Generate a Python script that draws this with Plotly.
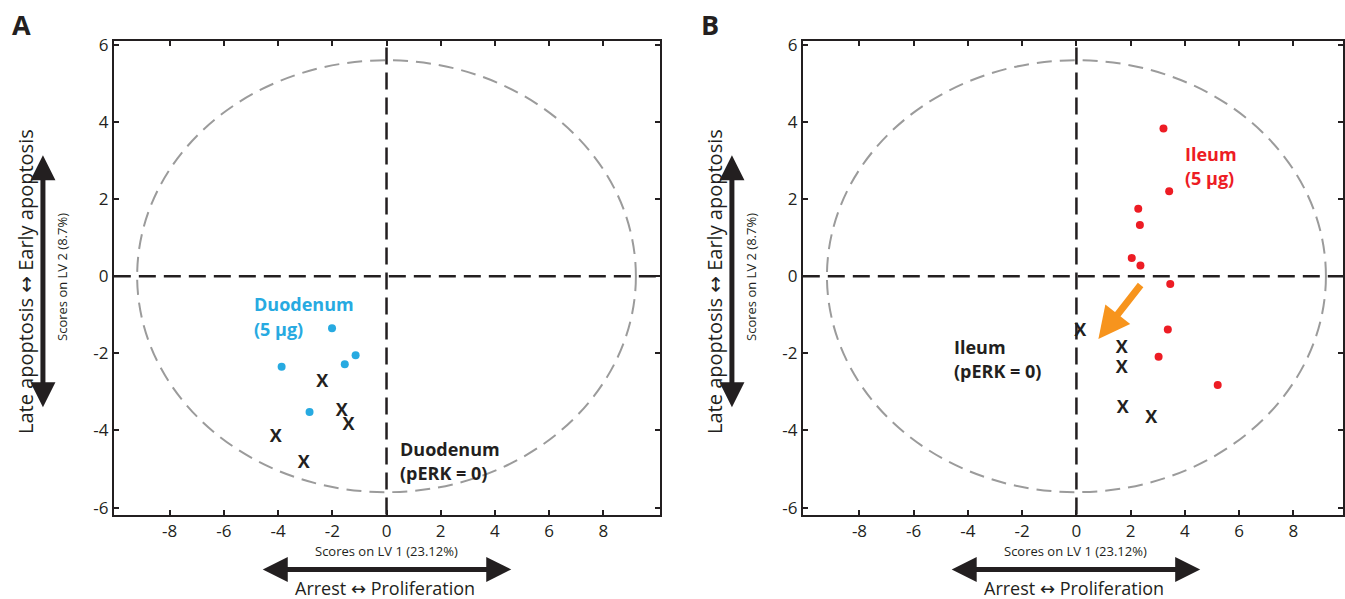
import plotly.graph_objects as go

# ---------------- data ----------------
# Panel A (Duodenum)
duo_5ug_x = [-2.01, -1.14, -1.54, -3.87, -2.84]
duo_5ug_y = [-1.35, -2.05, -2.28, -2.35, -3.52]
duo_perk0_x = [-2.37, -1.65, -1.40, -4.09, -3.05]
duo_perk0_y = [-2.75, -3.51, -3.86, -4.18, -4.85]

# Panel B (Ileum)
ile_5ug_x = [3.21, 3.42, 2.28, 2.34, 2.04, 2.36, 3.46, 3.37, 3.03, 5.21]
ile_5ug_y = [3.83, 2.20, 1.75, 1.33, 0.47, 0.28, -0.20, -1.38, -2.09, -2.82]
ile_perk0_x = [0.14, 1.67, 1.67, 1.71, 2.76]
ile_perk0_y = [-1.44, -1.88, -2.40, -3.42, -3.69]

# arrow (shift of Ileum group) tail -> head
arrow_tail = (2.41, -0.19)
arrow_head = (0.81, -1.63)

# confidence ellipse semi-axes
ELLIPSE_A = 9.2
ELLIPSE_B = 5.6

x_tick_vals = [-8, -6, -4, -2, 0, 2, 4, 6, 8]
x_tick_text = ["-8", "-6", "-4", "-2", "0", "2", "4", "6", "8"]
y_tick_vals = [-6, -4, -2, 0, 2, 4, 6]
y_tick_text = ["-6", "-4", "-2", "0", "2", "4", "6"]

# ---------------- style ----------------
W, H = 1345, 599
VA, VB = 5.4, 0.982  # vertical placement correction
INK = "#231F20"
BLUE = "#27AAE1"
RED = "#ED1C24"
ORANGE = "#F7941D"
GREY = "#9B9B9B"
FONT = "Open Sans"
ARROW_FONT = "DejaVu Sans"


def px(x):
    return x / W


def py(y):
    return 1 - ((y - VA) / VB) / H


fig = go.Figure()

x_font = dict(family=FONT, size=18, color=INK, weight="bold")
# Panel A traces
fig.add_trace(go.Scatter(x=duo_5ug_x, y=duo_5ug_y, mode="markers",
                         marker=dict(color=BLUE, size=8), xaxis="x", yaxis="y",
                         showlegend=False, hoverinfo="skip"))
fig.add_trace(go.Scatter(x=duo_perk0_x, y=duo_perk0_y, mode="text", text=["X"] * len(duo_perk0_x),
                         textfont=x_font, xaxis="x", yaxis="y", showlegend=False, hoverinfo="skip"))
# Panel B traces
fig.add_trace(go.Scatter(x=ile_5ug_x, y=ile_5ug_y, mode="markers",
                         marker=dict(color=RED, size=8), xaxis="x2", yaxis="y2",
                         showlegend=False, hoverinfo="skip"))
fig.add_trace(go.Scatter(x=ile_perk0_x, y=ile_perk0_y, mode="text", text=["X"] * len(ile_perk0_x),
                         textfont=x_font, xaxis="x2", yaxis="y2", showlegend=False, hoverinfo="skip"))

y_dom = [py(513), py(38)]
axis_common = dict(showgrid=False, zeroline=False, showline=True, linecolor=INK, linewidth=2,
                   mirror="ticks", ticks="inside", ticklen=5, tickwidth=1.5, tickcolor=INK,
                   tickfont=dict(family=FONT, size=17, color=INK), fixedrange=True)

fig.update_layout(
    width=W, height=H,
    margin=dict(l=0, r=0, t=0, b=0),
    paper_bgcolor="white", plot_bgcolor="white",
    xaxis=dict(domain=[px(114), px(661)], range=[-10.06, 10.09], anchor="y",
               tickvals=x_tick_vals, ticktext=x_tick_text, **axis_common),
    yaxis=dict(domain=y_dom, range=[-6.18, 6.11], anchor="x",
               tickvals=y_tick_vals, ticktext=y_tick_text, **axis_common),
    xaxis2=dict(domain=[px(804), 1.0], range=[-10.09, 9.83], anchor="y2",
                tickvals=x_tick_vals, ticktext=x_tick_text, **axis_common),
    yaxis2=dict(domain=y_dom, range=[-6.18, 6.11], anchor="x2",
                tickvals=y_tick_vals, ticktext=y_tick_text, **axis_common),
)

shapes = []
for xa, ya in (("x", "y"), ("x2", "y2")):
    # ellipse
    shapes.append(dict(type="circle", xref=xa, yref=ya, x0=-ELLIPSE_A, x1=ELLIPSE_A,
                       y0=-ELLIPSE_B, y1=ELLIPSE_B, line=dict(color=GREY, width=2, dash="15px,8px"),
                       layer="below"))
    # zero lines
    shapes.append(dict(type="line", xref=xa, yref=ya + " domain", x0=0, x1=0, y0=0, y1=1,
                       line=dict(color=INK, width=2.5, dash="17px,8px")))
    shapes.append(dict(type="line", xref=xa + " domain", yref=ya, x0=0, x1=1, y0=0, y1=0,
                       line=dict(color=INK, width=2.5, dash="17px,8px")))
fig.update_layout(shapes=shapes)

ann = []


def label(text, x, y, color, size=18, bold=False, xanchor="left", angle=0):
    ann.append(dict(text=text, x=px(x), y=py(y), xref="paper", yref="paper", showarrow=False,
                    xanchor=xanchor, yanchor="middle", textangle=angle,
                    font=dict(family=FONT, size=size, color=color, weight="bold" if bold else "normal")))


dbl = "<span style='font-family:%s'>\u2194</span>" % ARROW_FONT

for off in (0, 690):
    # x-axis title and interpretation
    label("Scores on LV 1 (23.12%)", 387 + off, 550, INK, size=13, xanchor="center")
    label("Arrest " + dbl + " Proliferation", 386 + off, 587, INK, size=18, xanchor="center")
    # y-axis title and interpretation
    label("Scores on LV 2 (8.7%)", 62 + off, 275, INK, size=13, xanchor="center", angle=-90)
    label("Late apoptosis " + dbl + " Early apoptosis", 25 + off, 279, INK, size=20,
          xanchor="center", angle=-90)
    # double arrows
    ann.append(dict(x=px(512 + off), y=py(568), xref="paper", yref="paper", ax=-250, ay=0,
                    axref="pixel", ayref="pixel", showarrow=True, arrowside="end+start",
                    arrowhead=2, arrowsize=1.0, arrowwidth=5, arrowcolor=INK, text="", standoff=0,
                    startstandoff=0))
    ann.append(dict(x=px(43 + off), y=py(153), xref="paper", yref="paper", ax=0, ay=249 / VB,
                    axref="pixel", ayref="pixel", showarrow=True, arrowside="end+start",
                    arrowhead=2, arrowsize=1.0, arrowwidth=5, arrowcolor=INK, text="", standoff=0,
                    startstandoff=0))

# panel letters
label("A", 10, 22, INK, size=27, bold=True)
label("B", 700, 22, INK, size=27, bold=True)

# group labels
label("Duodenum", 252, 302, BLUE, bold=True)
label("(5 \u03bcg)", 252, 327, BLUE, bold=True)
label("Duodenum", 399, 447, INK, bold=True)
label("(pERK = 0)", 399, 471, INK, bold=True)
label("Ileum", 1185, 152, RED, bold=True)
label("(5 \u03bcg)", 1185, 176, RED, bold=True)
label("Ileum", 953, 345, INK, bold=True)
label("(pERK = 0)", 953, 369, INK, bold=True)

# orange arrow
ann.append(dict(x=arrow_head[0], y=arrow_head[1], xref="x2", yref="y2",
                ax=arrow_tail[0], ay=arrow_tail[1], axref="x2", ayref="y2",
                showarrow=True, arrowhead=2, arrowsize=0.9, arrowwidth=7, arrowcolor=ORANGE,
                text="", standoff=0))

fig.update_layout(annotations=ann)

fig.write_html(
    "out.html",
    config={"displayModeBar": False},
    post_script="document.body.style.margin='0';document.body.style.overflow='hidden';",
)
